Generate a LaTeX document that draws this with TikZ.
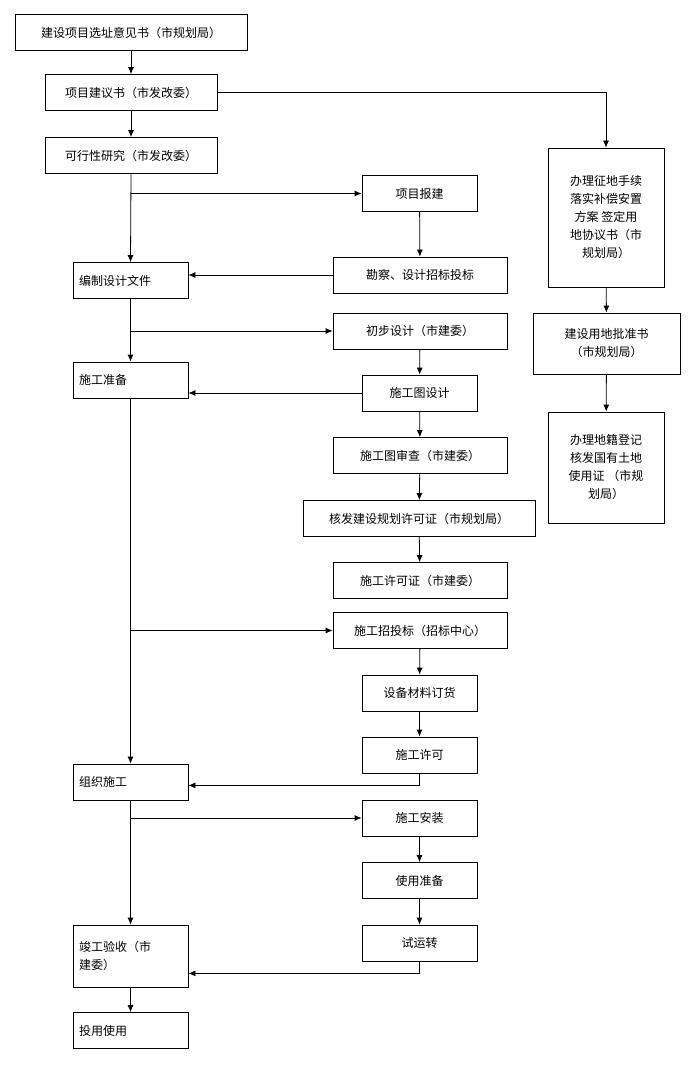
\documentclass[tikz,border=0pt]{standalone}
\usepackage{fontspec}
\setmainfont{Noto Sans CJK SC}
\usetikzlibrary{arrows.meta}
\tikzset{
  box/.style={draw, line width=0.8pt, minimum height=36pt, inner sep=3pt,
    font=\fontsize{12}{18}\selectfont},
  lbox/.style={box, minimum width=115pt, text width=103pt, align=left},
  arr/.style={line width=0.8pt, -{Latex[length=7pt,width=6pt]}}
}
\begin{document}
\begin{tikzpicture}[x=1pt,y=-1pt]
    \useasboundingbox (0,0) rectangle (700,1078);
    % main column
    \node[box, minimum width=232] (xz) at (131,32.5) {建设项目选址意见书（市规划局）};
    \node[box, minimum width=172] (jy) at (131,92.5) {项目建议书（市发改委）};
    \node[box, minimum width=172] (kx) at (131,155.5) {可行性研究（市发改委）};
    \node[lbox] (bz) at (130.5,280.5) {编制设计文件};
    \node[lbox] (zb) at (130.5,380) {施工准备};
    \node[lbox] (zz) at (130.5,782) {组织施工};
    \node[lbox, minimum height=62pt] (jg) at (130.5,956) {竣工验收（市\\建委）};
    \node[lbox] (ty) at (130.5,1030.5) {投用使用};

    % middle column
    \node[box, minimum width=115] (bj) at (419.5,193.5) {项目报建};
    \node[box, minimum width=174] (kc) at (420,275) {勘察、设计招标投标};
    \node[box, minimum width=174] (cb) at (420,331) {初步设计（市建委）};
    \node[box, minimum width=115] (st) at (419.5,393) {施工图设计};
    \node[box, minimum width=174] (sc) at (420,455.5) {施工图审查（市建委）};
    \node[box, minimum width=232] (hf) at (419,518.5) {核发建设规划许可证（市规划局）};
    \node[box, minimum width=174] (xkz) at (420,580.5) {施工许可证（市建委）};
    \node[box, minimum width=174] (zt) at (420,630.5) {施工招投标（招标中心）};
    \node[box, minimum width=115] (sb) at (419.5,693) {设备材料订货};
    \node[box, minimum width=115] (xk) at (419.5,755) {施工许可};
    \node[box, minimum width=115] (az) at (419.5,818) {施工安装};
    \node[box, minimum width=115] (sy) at (419.5,880.5) {使用准备};
    \node[box, minimum width=115] (yz) at (419.5,943) {试运转};

    % right column
    \node[box, minimum width=116, minimum height=139, align=center] (r1) at (606,217.5)
        {办理征地手续\\落实补偿安置\\方案\ 签定用\\地协议书（市\\规划局）};
    \node[box, minimum width=147, minimum height=61, align=center] (r2) at (606.5,343.5)
        {建设用地批准书\\（市规划局）};
    \node[box, minimum width=116, minimum height=111, align=center] (r3) at (606,467.5)
        {办理地籍登记\\核发国有土地\\使用证\ （市规\\划局）};

    % connectors
    \draw[arr] (xz) -- (jy);
    \draw[arr] (jy) -- (kx);
    \draw[arr] (jy.east) -| (r1.north);
    \draw[arr] (r1) -- (r2);
    \draw[arr] (r2) -- (r3);
    \draw[arr] (kx.south) -- (bz.north);
    \draw[arr] (kx.south |- bj.west) -- (bj.west);
    \draw[arr] (bj) -- (kc);
    \draw[arr] (kc.west) -- (kc.west -| bz.east);
    \draw[arr] (bz) -- (zb);
    \draw[arr] (bz.south |- cb.west) -- (cb.west);
    \draw[arr] (cb) -- (st);
    \draw[arr] (st.west) -- (st.west -| zb.east);
    \draw[arr] (st) -- (sc);
    \draw[arr] (sc) -- (hf);
    \draw[arr] (hf) -- (xkz);
    \draw[arr] (zb) -- (zz);
    \draw[arr] (zb.south |- zt.west) -- (zt.west);
    \draw[arr] (zt) -- (sb);
    \draw[arr] (sb) -- (xk);
    \draw[arr] (xk.south) -- ++(0,12) coordinate (c1) -- (c1 -| zz.east);
    \draw[arr] (zz) -- (jg);
    \draw[arr] (zz.south |- az.west) -- (az.west);
    \draw[arr] (az) -- (sy);
    \draw[arr] (sy) -- (yz);
    \draw[arr] (yz.south) -- ++(0,12) coordinate (c2) -- (c2 -| jg.east);
    \draw[arr] (jg) -- (ty);
\end{tikzpicture}
\end{document}
